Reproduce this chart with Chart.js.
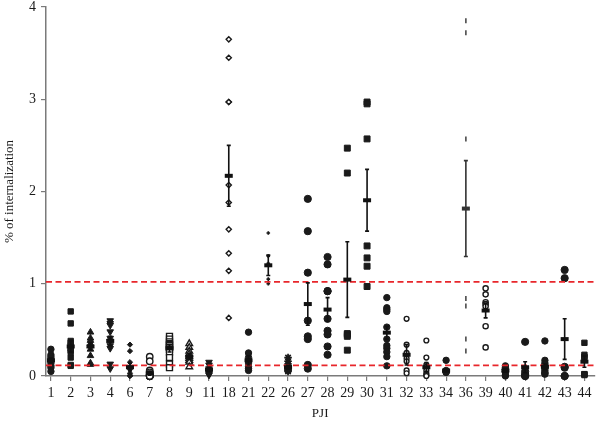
<!DOCTYPE html>
<html>
<head>
<meta charset="utf-8">
<script src="https://cdn.jsdelivr.net/npm/chart.js@4/dist/chart.umd.min.js"></script>
<style>
html,body{margin:0;padding:0;background:#fff;}
#wrap{width:600px;height:427px;}
</style>
</head>
<body>
<div id="wrap"><canvas id="c" width="600" height="427"></canvas></div>
<script>
// ---- data ----
const categories = ["1","2","3","4","6","7","8","9","11","18","21","22","26","27","28","29","30","31","32","33","34","36","39","40","41","42","43","44"];

const p1  = [0.29,0.23,0.21,0.19,0.16,0.14,0.11,0.09,0.05];
const p2  = [0.70,0.57,0.38,0.36,0.33,0.30,0.28,0.26,0.20,0.12,0.11];
const p3  = [0.475,0.41,0.385,0.35,0.33,0.29,0.22,0.14,0.125];
const p4  = [0.60,0.57,0.55,0.48,0.41,0.38,0.33,0.30,0.13,0.08];
const p6  = [0.34,0.27,0.15,0.10,0.07,0.03,0.01,0.0,0.0];
const p7  = [0.21,0.16,0.06,0.04,0.02,0.01,0.01,0.0,0.0,0.0,0.0,0.0];
const p8  = [0.43,0.40,0.37,0.35,0.34,0.33,0.31,0.29,0.26,0.20,0.13,0.09];
const p9  = [0.35,0.31,0.27,0.24,0.21,0.19,0.17,0.15,0.10];
const p11 = [0.15,0.12,0.08,0.06,0.05,0.04,0.03,0.02,0.01];
const p18 = [3.65,3.45,2.97,2.97,2.07,1.88,1.59,1.33,1.14,0.63];
const p21 = [0.475,0.25,0.20,0.14,0.10,0.08,0.06];
const p22 = [1.55,1.30,1.22,1.05,1.00];
const p26 = [0.20,0.16,0.13,0.11,0.09,0.07,0.06,0.05];
const p27 = [1.92,1.57,1.12,0.60,0.43,0.40,0.12,0.08];
const p28 = [1.29,1.21,0.92,0.92,0.62,0.49,0.45,0.32,0.23];
const p29 = [2.47,2.20,0.46,0.45,0.43,0.28];
const p30 = [2.97,2.95,2.57,1.41,1.28,1.19,0.97];
const p31 = [0.85,0.74,0.72,0.70,0.53,0.40,0.33,0.30,0.26,0.21,0.11];
const p32 = [0.62,0.34,0.25,0.19,0.16,0.06,0.03];
const p33 = [0.385,0.20,0.12,0.10,0.06,0.03,0.01,0.0];
const p34 = [0.17,0.06,0.05,0.04,0.04];
const p36 = [3.85,3.72,2.57,0.84,0.76,0.40,0.27];
const p39 = [0.95,0.885,0.80,0.78,0.755,0.54,0.31];
const p40 = [0.11,0.09,0.07,0.05,0.04,0.01,0.0];
const p41 = [0.37,0.05,0.02,0.0,0.0];
const p42 = [0.38,0.17,0.14,0.12,0.10,0.08,0.06,0.04,0.03,0.02];
const p43 = [1.15,1.06,0.10,0.09,0.0,0.0];
const p44 = [0.36,0.23,0.21,0.20,0.02,0.02,0.01];

const points = [p1,p2,p3,p4,p6,p7,p8,p9,p11,p18,p21,p22,p26,p27,p28,p29,p30,p31,p32,p33,p34,p36,p39,p40,p41,p42,p43,p44];

const means = [0.17,0.32,0.32,0.38,0.095,0.03,0.30,0.21,0.07,2.17,0.17,1.20,0.095,0.78,0.72,1.045,1.905,0.47,0.23,0.095,0.06,1.815,0.71,0.06,0.095,0.10,0.40,0.155];
const sems  = [0.025,0.06,0.04,0.05,0.04,0.02,0.04,0.03,0.02,0.33,0.05,0.11,0.02,0.23,0.13,0.41,0.335,0.07,0.11,0.05,0.01,0.52,0.08,0.02,0.06,0.03,0.22,0.06];

const thresholds = [1.02, 0.115];

// ---- marker styles (per category) ----
const markerStyles = [
  {s:'circle',r:3.2,open:false},      //1
  {s:'rect',r:3.8,open:false},      //2
  {s:'triangle',r:3.8,open:false},  //3
  {s:'triangle',r:3.8,open:false,rot:180}, //4
  {s:'rectRot',r:2.6,open:false},   //6
  {s:'circle',r:3.2,open:true},       //7
  {s:'rect',r:4.2,open:true},         //8
  {s:'triangle',r:3.8,open:true},   //9
  {s:'triangle',r:3.8,open:false,rot:180}, //11
  {s:'rectRot',r:2.6,open:true},    //18
  {s:'circle',r:3.2,open:false},      //21
  {s:'cross',r:1.8,open:false},     //22
  {s:'star',r:3.8,open:false},      //26
  {s:'circle',r:3.6,open:false},    //27
  {s:'circle',r:3.6,open:false},    //28
  {s:'rect',r:4.2,open:false},        //29
  {s:'rect',r:4.2,open:false},        //30
  {s:'circle',r:3.2,open:false},      //31
  {s:'circle',r:2.4,open:true},     //32
  {s:'circle',r:2.4,open:true},     //33
  {s:'circle',r:3.2,open:false},      //34
  {s:'line',r:2.5,open:false,rot:90,col:'#555'}, //36
  {s:'circle',r:2.6,open:true},     //39
  {s:'circle',r:3.2,open:false},      //40
  {s:'circle',r:3.6,open:false},    //41
  {s:'circle',r:3.2,open:false},      //42
  {s:'circle',r:3.6,open:false},    //43
  {s:'rect',r:3.8,open:false}       //44
];

const FONT = "'Liberation Serif', 'DejaVu Serif', serif";
const INK = '#1a1a1a';
const AXIS = '#7a7a7a';

const datasets = points.map((arr, i) => {
  const st = markerStyles[i];
  const col = st.col || INK;
  return {
    type: 'scatter',
    data: arr.map(v => ({x: i, y: v})),
    pointStyle: st.s,
    pointRadius: st.r,
    pointRotation: st.rot || 0,
    pointBackgroundColor: st.open ? '#ffffff' : col,
    pointBorderColor: col,
    pointBorderWidth: st.open ? 1.4 : (st.s === 'cross' || st.s === 'line' || st.s === 'star' ? 1.7 : 1),
    clip: false,
    order: 2
  };
});

const xMin = -0.25, xMax = 27.5;
thresholds.forEach(t => {
  datasets.push({
    type: 'line',
    data: [{x: xMin, y: t}, {x: xMax, y: t}],
    borderColor: '#e8262b',
    borderWidth: 1.8,
    borderDash: [6, 3.5],
    pointRadius: 0,
    fill: false,
    order: 1
  });
});

const errorPlugin = {
  id: 'meanErr',
  afterDatasetsDraw(chart) {
    const ctx = chart.ctx, xs = chart.scales.x, ys = chart.scales.y;
    ctx.save();
    means.forEach((m, i) => {
      const px = xs.getPixelForValue(i);
      const py = ys.getPixelForValue(m);
      const top = ys.getPixelForValue(m + sems[i]);
      const bot = ys.getPixelForValue(Math.max(0, m - sems[i]));
      const col = (markerStyles[i].col) ? '#333' : '#111';
      ctx.strokeStyle = col;
      ctx.fillStyle = col;
      ctx.lineWidth = 1.6;
      ctx.beginPath();
      ctx.moveTo(px, top); ctx.lineTo(px, bot);
      ctx.moveTo(px - 2, top); ctx.lineTo(px + 2, top);
      ctx.moveTo(px - 2, bot); ctx.lineTo(px + 2, bot);
      ctx.stroke();
      ctx.fillRect(px - 4, py - 2, 8, 4);
    });
    ctx.restore();
  }
};

new Chart(document.getElementById('c'), {
  data: { datasets },
  plugins: [errorPlugin],
  options: {
    responsive: false,
    animation: false,
    layout: { padding: { top: 7, right: 0, left: 2, bottom: 0 } },
    plugins: { legend: { display: false }, tooltip: { enabled: false } },
    scales: {
      x: {
        type: 'linear',
        min: xMin, max: xMax,
        afterBuildTicks(scale) { scale.ticks = categories.map((_, i) => ({value: i})); },
        afterFit(scale) { scale.height = 51; scale.paddingLeft = 0; scale.paddingRight = 0; },
        ticks: {
          callback: (v) => categories[v] !== undefined ? categories[v] : '',
          font: { family: FONT, size: 14 },
          color: INK,
          padding: 4,
          maxRotation: 0, autoSkip: false
        },
        grid: { drawOnChartArea: false, drawTicks: true, tickLength: 5, color: AXIS, lineWidth: 1.2 },
        border: { color: AXIS, width: 1.5 },
        title: { display: true, text: 'PJI', font: { family: FONT, size: 13 }, color: INK, padding: { top: 2, bottom: 6 } }
      },
      y: {
        type: 'linear',
        min: 0, max: 4,
        afterFit(scale) { scale.width = 44; scale.paddingTop = 0; scale.paddingBottom = 0; },
        ticks: {
          stepSize: 1,
          font: { family: FONT, size: 14 },
          color: INK,
          padding: 5
        },
        grid: { drawOnChartArea: false, drawTicks: true, tickLength: 5, color: AXIS, lineWidth: 1.2 },
        border: { color: AXIS, width: 1.5 },
        title: { display: true, text: '% of internalization', font: { family: FONT, size: 13 }, color: INK, padding: { top: 0, bottom: 2 } }
      }
    }
  }
});
</script>
</body>
</html>
